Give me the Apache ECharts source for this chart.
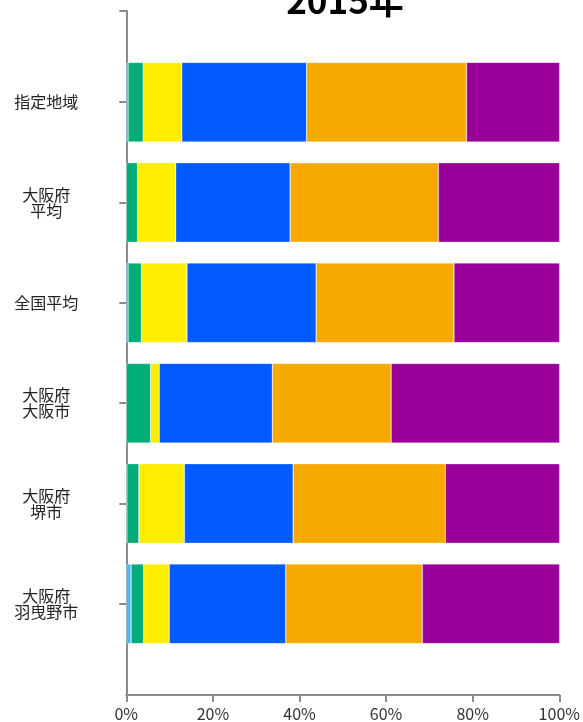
<!DOCTYPE html>
<html>
<head>
<meta charset="utf-8">
<script src="https://cdn.jsdelivr.net/npm/echarts@6/dist/echarts.min.js"></script>
<style>
html,body{margin:0;padding:0;background:#fff;}
#main{width:583px;height:722px;}
</style>
</head>
<body>
<div id="main"></div>
<script>
var titleText = '2015年';
var categories = ['指定地域', '大阪府\n平均', '全国平均', '大阪府\n大阪市', '大阪府\n堺市', '大阪府\n羽曳野市'];
var seriesNames = ['区分1', '区分2', '区分3', '区分4', '区分5', '区分6'];
var s1 = [0.4, 0.0, 0.4, 0.0, 0.2, 1.1];
var s2 = [3.5, 2.6, 3.1, 5.6, 2.7, 2.9];
var s3 = [8.9, 8.8, 10.5, 2.0, 10.5, 5.9];
var s4 = [28.8, 26.4, 29.8, 26.1, 25.1, 26.9];
var s5 = [36.9, 34.2, 31.8, 27.4, 35.1, 31.5];
var s6 = [21.5, 28.0, 24.4, 38.9, 26.4, 31.7];
var xTicks = [0, 20, 40, 60, 80, 100];
var colors = ['#4db6f2', '#00ad78', '#ffee00', '#005aff', '#f6aa00', '#990099'];

var seriesData = [s1, s2, s3, s4, s5, s6];
var chart = echarts.init(document.getElementById('main'), null, {renderer: 'canvas'});
var axisColor = '#8a8a8a';
var series = seriesData.map(function (d, i) {
  return {
    name: seriesNames[i],
    type: 'bar',
    stack: 'total',
    xAxisIndex: 1,
    yAxisIndex: 1,
    barCategoryGap: '20.7%',
    data: d,
    itemStyle: {color: colors[i], borderColor: 'rgba(255,255,255,0.45)', borderWidth: 0.6},
    emphasis: {disabled: true},
    silent: true
  };
});
chart.setOption({
  animation: false,
  title: {
    text: titleText,
    left: 340,
    textAlign: 'center',
    top: -22,
    textStyle: {fontFamily: 'Noto Sans CJK JP', fontWeight: 'bold', fontSize: 35, color: '#000'}
  },
  grid: [
    {left: 126.3, right: 23.3, top: 11, bottom: 25},
    {left: 126.3, right: 23.3, top: 52, bottom: 68}
  ],
  xAxis: [
    {
      gridIndex: 0, type: 'value', min: xTicks[0], max: xTicks[xTicks.length - 1], interval: 20,
      axisLine: {show: true, lineStyle: {color: axisColor, width: 2}},
      axisTick: {show: true, length: 7, lineStyle: {color: axisColor, width: 2}},
      splitLine: {show: false},
      axisLabel: {formatter: '{value}%', fontSize: 16, color: '#333', margin: 11, fontFamily: 'Noto Sans CJK JP'}
    },
    {
      gridIndex: 1, type: 'value', min: 0, max: 100, show: false
    }
  ],
  yAxis: [
    {
      gridIndex: 0, type: 'value', min: 0, max: 1, interval: 1,
      axisLine: {show: true, lineStyle: {color: axisColor, width: 2}},
      axisTick: {show: true, length: 7, customValues: [1], lineStyle: {color: axisColor, width: 2}},
      axisLabel: {show: false},
      splitLine: {show: false}
    },
    {
      gridIndex: 1, type: 'category', data: categories, inverse: true,
      axisLine: {show: false},
      axisTick: {show: true, alignWithLabel: true, length: 7, lineStyle: {color: axisColor, width: 2}},
      axisLabel: {align: 'center', margin: 80, fontSize: 16, lineHeight: 16, color: '#222', fontFamily: 'Noto Sans CJK JP'},
      splitLine: {show: false}
    }
  ],
  series: series
});
</script>
</body>
</html>
